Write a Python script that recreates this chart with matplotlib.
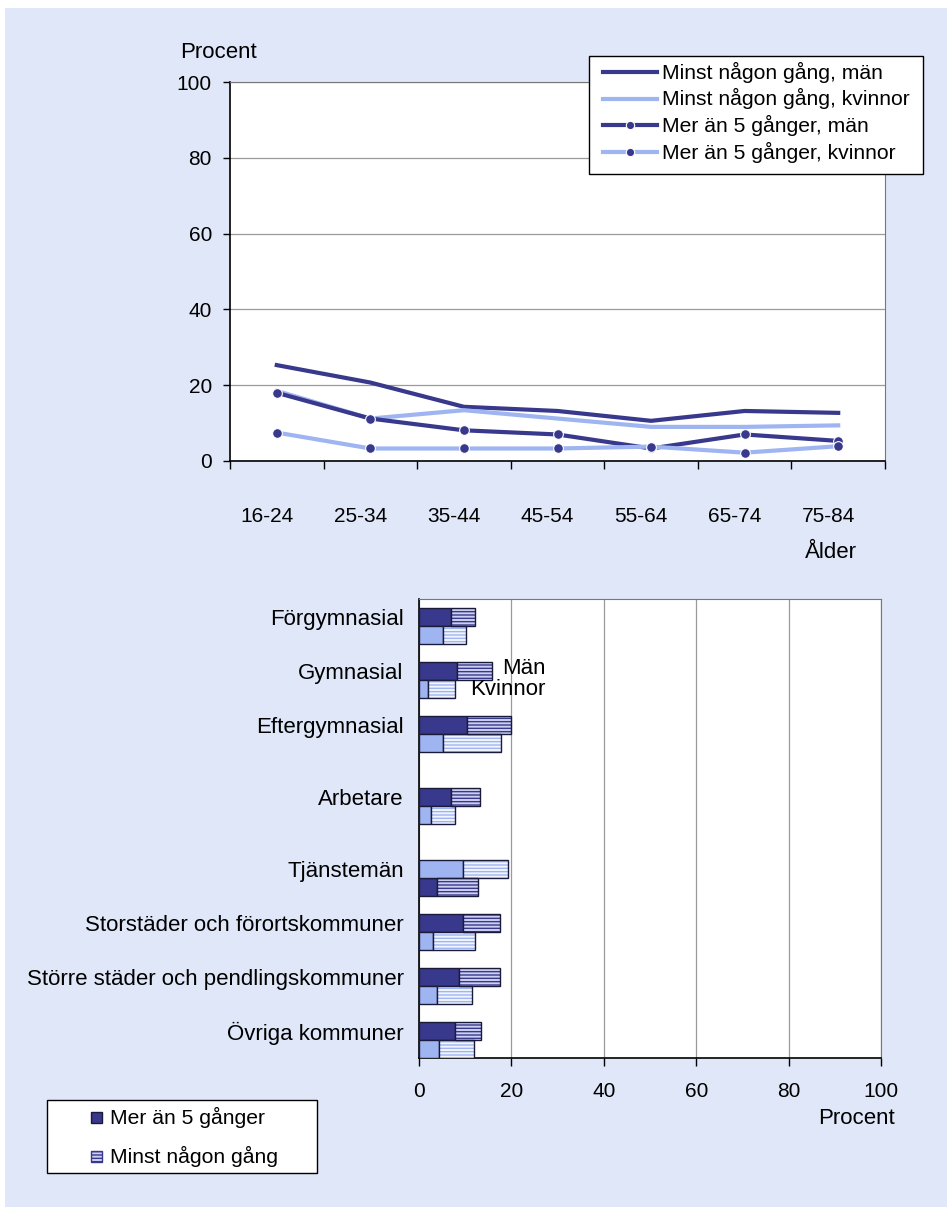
import matplotlib
matplotlib.use('Agg')
import matplotlib.pyplot as plt
from matplotlib.patches import Rectangle
from matplotlib.lines import Line2D
import matplotlib.transforms as mtransforms

# ---- data: line chart (percent by age group)
ages = ['16-24', '25-34', '35-44', '45-54', '55-64', '65-74', '75-84']
minst_man = [25.3, 20.7, 14.3, 13.2, 10.6, 13.2, 12.7]
minst_kvinnor = [18.5, 11.2, 13.4, 11.2, 9.0, 9.0, 9.4]
mer5_man = [18.0, 11.2, 8.1, 7.0, 3.3, 7.0, 5.3]
mer5_kvinnor = [7.5, 3.3, 3.3, 3.3, 3.8, 2.2, 3.9]

# ---- data: bar chart (percent by group)
groups = ['Förgymnasial', 'Gymnasial', 'Eftergymnasial', 'Arbetare',
          'Tjänstemän', 'Storstäder och förortskommuner',
          'Större städer och pendlingskommuner', 'Övriga kommuner']
man_mer5 = [6.9, 8.2, 10.4, 6.9, 3.8, 9.6, 8.7, 7.9]
man_minst = [12.2, 15.7, 20.0, 13.1, 12.7, 17.5, 17.5, 13.5]
kv_mer5 = [5.2, 2.0, 5.2, 2.6, 9.6, 3.0, 3.8, 4.4]
kv_minst = [10.1, 7.8, 17.8, 7.8, 19.2, 12.2, 11.4, 11.8]

# layout of the bar rows (gaps between the blocks)
rows = [0, 1, 2, 3.333, 4.667, 5.667, 6.667, 7.667]
man_on_top = [True, True, True, True, False, True, True, True]

NAVY = '#38388C'
LIGHT = '#9FB5F2'
BG = '#DFE7F8'
GRID = '#9A9A9A'
EDGE = '#1a1a3a'
W, H = 947, 1207
FS_TXT = 16
FS_NUM = 15
FS_LEG = 15.2

plt.rcParams['font.family'] = ['Liberation Sans', 'DejaVu Sans']
plt.rcParams['font.size'] = FS_TXT
plt.rcParams['hatch.linewidth'] = 1.0

fig = plt.figure(figsize=(W / 100, H / 100), dpi=100, facecolor='white')
fig.patches.append(Rectangle((5 / W, 0), 1, 1 - 8 / H, transform=fig.transFigure,
                             facecolor=BG, edgecolor='none', zorder=-10))


def px_axes(left, top, right, bottom):
    return fig.add_axes([left / W, 1 - bottom / H, (right - left) / W, (bottom - top) / H])


def fx(px):
    return px / W


def fy(py):
    return 1 - py / H


# ================= line chart =================
ax = px_axes(230, 82, 885, 461)
x = list(range(len(ages)))
ax.plot(x, minst_man, color=NAVY, lw=3, zorder=3)
ax.plot(x, minst_kvinnor, color=LIGHT, lw=3, zorder=3)
ax.plot(x, mer5_man, color=NAVY, lw=3, marker='o', ms=7, mfc=NAVY, mec='white',
        mew=0.8, zorder=4)
ax.plot(x, mer5_kvinnor, color=LIGHT, lw=3, marker='o', ms=7, mfc=NAVY, mec='white',
        mew=0.8, zorder=4)

ax.set_xlim(-0.5, len(ages) - 0.5)
ax.set_ylim(0, 100)
ax.set_yticks([0, 20, 40, 60, 80, 100])
ax.yaxis.grid(True, color=GRID, lw=0.9)
ax.set_axisbelow(True)
ax.set_xticks([i - 0.5 for i in range(len(ages) + 1)])
ax.set_xticklabels([])
ax.set_xticks(x, minor=True)
ax.set_xticklabels(ages, minor=True, fontsize=FS_NUM)
ax.tick_params(axis='x', which='major', direction='out', length=6, width=1)
ax.tick_params(axis='x', which='minor', length=0, pad=33)
ax.tick_params(axis='y', direction='out', length=5, width=1, pad=8, labelsize=FS_NUM)
shift = mtransforms.ScaledTranslation(-0.10, 0, fig.dpi_scale_trans)
for lab in ax.get_xticklabels(minor=True):
    lab.set_transform(lab.get_transform() + shift)
for side in ('left', 'bottom'):
    ax.spines[side].set_color('black')
    ax.spines[side].set_linewidth(1.2)
for side in ('top', 'right'):
    ax.spines[side].set_color('#777777')
ax.set_facecolor('white')

fig.text(fx(180), fy(53), 'Procent', ha='left', va='center')
fig.text(fx(857), fy(553), 'Ålder', ha='right', va='center')

# legend of the line chart
fig.add_artist(Rectangle((fx(589), fy(174)), fx(923) - fx(589), fy(56) - fy(174),
                         transform=fig.transFigure, facecolor='white',
                         edgecolor='black', lw=1.0, zorder=5))
line_keys = [
    ('Minst någon gång, män', NAVY, False),
    ('Minst någon gång, kvinnor', LIGHT, False),
    ('Mer än 5 gånger, män', NAVY, True),
    ('Mer än 5 gånger, kvinnor', LIGHT, True),
]
for k, (label, col, has_marker) in enumerate(line_keys):
    yy = fy(72 + k * 26.7)
    fig.add_artist(Line2D([fx(603), fx(657)], [yy, yy], color=col, lw=3,
                          transform=fig.transFigure, zorder=6))
    if has_marker:
        fig.add_artist(Line2D([fx(630)], [yy], marker='o', ms=6, mfc=NAVY, mec='white',
                              mew=0.8, transform=fig.transFigure, zorder=7))
    fig.text(fx(662), yy, label, ha='left', va='center', fontsize=FS_LEG, zorder=7)

# ================= bar chart =================
bx = px_axes(419, 599, 881, 1058)
bar_h = 1 / 3
for i, g in enumerate(groups):
    y_man = rows[i] - bar_h / 2 if man_on_top[i] else rows[i] + bar_h / 2
    y_kv = rows[i] + bar_h / 2 if man_on_top[i] else rows[i] - bar_h / 2
    # men
    bx.barh(y_man, man_mer5[i], height=bar_h, color=NAVY, edgecolor=EDGE, lw=1, zorder=3)
    bx.barh(y_man, man_minst[i] - man_mer5[i], left=man_mer5[i], height=bar_h,
            facecolor='#CDD0F0', edgecolor=NAVY, hatch='-----', lw=0, zorder=3)
    bx.barh(y_man, man_minst[i] - man_mer5[i], left=man_mer5[i], height=bar_h,
            facecolor='none', edgecolor=EDGE, lw=1, zorder=4)
    # women
    bx.barh(y_kv, kv_mer5[i], height=bar_h, color=LIGHT, edgecolor=EDGE, lw=1, zorder=3)
    bx.barh(y_kv, kv_minst[i] - kv_mer5[i], left=kv_mer5[i], height=bar_h,
            facecolor='#F2F5FF', edgecolor=LIGHT, hatch='-----', lw=0, zorder=3)
    bx.barh(y_kv, kv_minst[i] - kv_mer5[i], left=kv_mer5[i], height=bar_h,
            facecolor='none', edgecolor=EDGE, lw=1, zorder=4)

bx.set_xlim(0, 100)
bx.set_ylim(rows[-1] + bar_h, rows[0] - 0.5)
bx.set_xticks([0, 20, 40, 60, 80, 100])
bx.set_yticks([r - bar_h / 2 for r in rows])
bx.set_yticklabels(groups)
bx.tick_params(axis='y', length=0, pad=11)
bx.tick_params(axis='x', direction='out', length=6, width=1, pad=11, labelsize=FS_NUM)
bx.xaxis.grid(True, color=GRID, lw=0.9)
bx.set_axisbelow(True)
for side in ('left', 'bottom'):
    bx.spines[side].set_color('black')
    bx.spines[side].set_linewidth(1.2)
for side in ('top', 'right'):
    bx.spines[side].set_color('#777777')
bx.set_facecolor('white')

gi = groups.index('Gymnasial')
bx.text(27.3, rows[gi] - 0.22, 'Män', ha='right', va='center', zorder=5)
bx.text(27.3, rows[gi] + 0.17, 'Kvinnor', ha='right', va='center', zorder=5)

fig.text(fx(895), fy(1119), 'Procent', ha='right', va='center')

# legend of the bar chart
fig.add_artist(Rectangle((fx(47), fy(1173)), fx(317) - fx(47), fy(1100) - fy(1173),
                         transform=fig.transFigure, facecolor='white',
                         edgecolor='black', lw=1.0, zorder=5))
bar_keys = [('Mer än 5 gånger', NAVY, None), ('Minst någon gång', '#CDD0F0', '-----')]
for k, (label, col, hatch) in enumerate(bar_keys):
    yc = 1117 + k * 39
    fig.add_artist(Rectangle((fx(91), fy(yc + 5.5)), fx(102) - fx(91), fy(yc - 5.5) - fy(yc + 5.5),
                             transform=fig.transFigure, facecolor=col,
                             edgecolor=NAVY if hatch else EDGE, hatch=hatch, lw=1, zorder=6))
    fig.text(fx(110), fy(yc), label, ha='left', va='center', fontsize=FS_LEG, zorder=7)

fig.savefig('out.png', dpi=100, facecolor=fig.get_facecolor())
